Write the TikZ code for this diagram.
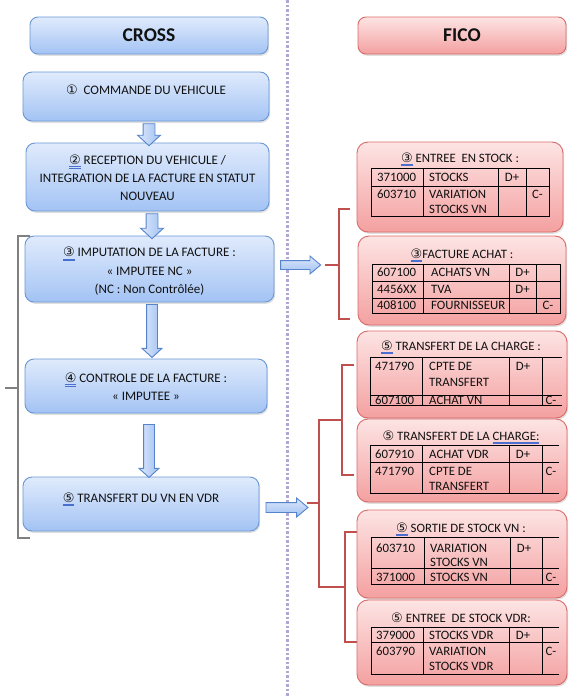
\documentclass[tikz,border=0pt]{standalone}
\usepackage{fontspec}
\setmainfont{Carlito}
\newfontfamily\dvfont{DejaVu Sans}
\usetikzlibrary{shapes.arrows,shadows,calc}
\definecolor{btop}{HTML}{E0EBFC}
\definecolor{bbot}{HTML}{A3C3F4}
\definecolor{bdraw}{HTML}{6A97D6}
\definecolor{atop}{HTML}{DCE8FB}
\definecolor{abot}{HTML}{A0C0F2}
\definecolor{adraw}{HTML}{5584CC}
\definecolor{rtop}{HTML}{FDE4E4}
\definecolor{rbot}{HTML}{F4A0A0}
\definecolor{rdraw}{HTML}{D96B69}
\definecolor{brk}{HTML}{C0504D}
\definecolor{dotc}{HTML}{B3A6D4}
\definecolor{ulc}{HTML}{4A6FD0}
\definecolor{txt}{HTML}{111111}
\newcommand\cn[1]{{\dvfont\fontsize{13}{13}\selectfont #1}}
\newcommand\bu[1]{\setbox0\hbox{#1}\rlap{\color{ulc}\rule[-2.2pt]{\wd0}{0.5pt}}\rlap{\color{ulc}\rule[-3.6pt]{\wd0}{0.5pt}}\box0\relax}
\tikzset{
  bbox/.style={draw=bdraw, line width=0.9pt, rounded corners=9pt, top color=btop, bottom color=bbot,
    inner sep=0pt, drop shadow={shadow xshift=1.2pt, shadow yshift=-1.8pt, opacity=0.25}},
  rbox/.style={draw=rdraw, line width=0.9pt, rounded corners=11pt, top color=rtop, bottom color=rbot,
    inner sep=0pt, drop shadow={shadow xshift=1.2pt, shadow yshift=-1.8pt, opacity=0.25}},
  hd/.style={font=\fontsize{19.5}{22}\selectfont\bfseries, text=txt},
  bt/.style={font=\fontsize{13}{18}\selectfont, align=center, text=txt, inner sep=0pt},
  tt/.style={font=\fontsize{12.8}{15}\selectfont, anchor=west, inner sep=0pt, text height=8pt, text depth=0pt, text=txt},
  tc/.style={font=\fontsize{12.8}{15}\selectfont, anchor=center, inner sep=0pt, text height=8pt, text depth=0pt, text=txt},
  ti/.style={font=\fontsize{12.8}{15}\selectfont, inner sep=0pt, text=txt},
  tbl/.style={line width=0.9pt, black},
  darr/.style={single arrow, draw=adraw, line width=0.9pt, left color=atop, right color=abot,
    inner sep=0pt, text width=0pt, text height=5pt, text depth=5pt, single arrow head extend=4.5pt,
    single arrow tip angle=95, rotate=-90},
  harr/.style={single arrow, draw=adraw, line width=0.9pt, top color=atop, bottom color=abot,
    inner sep=0pt, text width=0pt, text height=4pt, text depth=4pt, single arrow head extend=4.5pt,
    single arrow tip angle=80},
  rbr/.style={draw=brk, line width=2.4pt},
  gbr/.style={draw=black!50, line width=1.4pt},
}
\begin{document}
\begin{tikzpicture}[x=1pt,y=-1pt]
\useasboundingbox (0,0) rectangle (576,696);
% separator
\coordinate (d1) at (287,0); \coordinate (d2) at (287,696);
\draw[dotc, line width=3pt, dash pattern=on 2.5pt off 2pt] (d1) -- (d2);
% headers
\node[bbox, rounded corners=8pt, minimum width=238pt, minimum height=37pt] (hC) at (149,35.5) {};
\node[hd] (hCt) at (hC) {CROSS};
\node[rbox, rounded corners=8pt, minimum width=208pt, minimum height=37pt] (hF) at (462,35.5) {};
\node[hd] (hFt) at (hF) {FICO};
% left boxes
\node[bbox, minimum width=246pt, minimum height=49pt] (b1) at (146,96.5) {};
\node[bt] (b1t) at (146,90) {\cn{①}\ \ COMMANDE DU VEHICULE};
\node[bbox, minimum width=243pt, minimum height=68pt] (b2) at (147.5,177) {};
\node[bt] (b2t) at (147.5,178) {\bu{\cn{②}} RECEPTION DU VEHICULE /\\INTEGRATION\ DE LA FACTURE EN STATUT\\NOUVEAU};
\node[bbox, minimum width=249pt, minimum height=66pt] (b3) at (149.5,269) {};
\node[bt, font=\fontsize{13}{18.5}\selectfont] (b3t) at (149.5,271.5) {\bu{\cn{③}} IMPUTATION DE LA FACTURE :\\« IMPUTEE NC »\\(NC : Non Contrôlée)};
\node[bbox, minimum width=242pt, minimum height=54pt] (b4) at (146,386) {};
\node[bt] (b4t) at (146,387) {\bu{\cn{④}} CONTROLE DE LA FACTURE :\\« IMPUTEE »};
\node[bbox, minimum width=236pt, minimum height=54pt] (b5) at (141,504) {};
\node[bt] (b5t) at (141,499) {\bu{\cn{⑤}} TRANSFERT DU VN EN VDR};
% down arrows
\node[darr, text height=5.5pt, text depth=5.5pt, single arrow head extend=5.5pt, minimum height=22pt] (a12) at (149,132) {};
\node[darr, text height=5.5pt, text depth=5.5pt, single arrow head extend=5.5pt, minimum height=25pt] (a23) at (152,223.5) {};
\node[darr, minimum height=53pt] (a34) at (152,328.5) {};
\node[darr, minimum height=53pt] (a45) at (149,448.5) {};
% right arrows
\node[harr, minimum height=40pt] (a3r) at (298,265) {};
\node[harr, text height=4.5pt, text depth=4.5pt, minimum height=42pt] (a5r) at (284,507.5) {};
% grey bracket
\coordinate (g1) at (30,236); \coordinate (g2) at (18,236); \coordinate (g3) at (18,538); \coordinate (g4) at (30,538);
\coordinate (gm) at (18,388); \coordinate (gt) at (5,388);
\draw[gbr] (g1) -- (g2) -- (g3) -- (g4);
\draw[gbr] (gt) -- (gm);
% red bracket A
\coordinate (ra1) at (350,209); \coordinate (ra2) at (339,209); \coordinate (ra3) at (339,319); \coordinate (ra4) at (350,319);
\coordinate (ram) at (339,265); \coordinate (rat) at (325,265);
\draw[rbr] (ra1) -- (ra2) -- (ra3) -- (ra4);
\draw[rbr] (rat) -- (ram);
% red bracket B
\coordinate (s1a) at (354,365); \coordinate (s1b) at (342,365); \coordinate (s1c) at (342,475); \coordinate (s1d) at (354,475); \coordinate (s1m) at (342,420);
\coordinate (s2a) at (357,532); \coordinate (s2b) at (345,532); \coordinate (s2c) at (345,642); \coordinate (s2d) at (357,642); \coordinate (s2m) at (345,587);
\coordinate (bt1) at (319,420); \coordinate (bt2) at (319,587); \coordinate (bm) at (319,503); \coordinate (bx) at (307,503);
\draw[rbr] (s1a) -- (s1b) -- (s1c) -- (s1d);
\draw[rbr] (s2a) -- (s2b) -- (s2c) -- (s2d);
\draw[rbr] (s1m) -- (bt1) -- (bt2) -- (s2m);
\draw[rbr] (bx) -- (bm);
% right boxes
\node[rbox, minimum width=206pt, minimum height=90pt] (r1) at (460,187) {};
\node[rbox, minimum width=208pt, minimum height=89pt] (r2) at (462,280.5) {};
\node[rbox, minimum width=210pt, minimum height=87pt] (r3) at (462,374.5) {};
\node[rbox, minimum width=210pt, minimum height=83pt] (r4) at (462,460.5) {};
\node[rbox, minimum width=210pt, minimum height=88pt] (r5) at (462,554) {};
\node[rbox, minimum width=210pt, minimum height=85pt] (r6) at (462,642.5) {};
% R1
\node[ti] (r1t) at (460,159) {\bu{\cn{③}} ENTREE\ \ EN STOCK :};
\draw[tbl] (371,168) rectangle (549,216) (371,186) -- (549,186)
  (423,168) -- (423,216) (498,168) -- (498,216) (526,168) -- (526,216);
\node[tt] (r1a1) at (377,177) {371000};
\node[tt] (r1b1) at (429,177) {STOCKS};
\node[tc] (r1c1) at (512,177) {D+};
\node[tt] (r1a2) at (377,194) {603710};
\node[tt] (r1b2) at (429,194) {VARIATION};
\node[tt] (r1b3) at (429,209) {STOCKS VN};
\node[tc] (r1d2) at (537.5,194) {C-};
% R2
\node[ti] (r2t) at (462,255) {\bu{\cn{③}}FACTURE ACHAT :};
\draw[tbl] (372,264) rectangle (560,313) (372,281) -- (560,281) (372,298) -- (560,298)
  (423,264) -- (423,313) (509,264) -- (509,313) (536,264) -- (536,313);
\node[tt] (r2a1) at (377,272.5) {607100};
\node[tt] (r2b1) at (431,272.5) {ACHATS VN};
\node[tc] (r2c1) at (522.5,272.5) {D+};
\node[tt] (r2a2) at (377,289.5) {4456XX};
\node[tt] (r2b2) at (431,289.5) {TVA};
\node[tc] (r2c2) at (522.5,289.5) {D+};
\node[tt] (r2a3) at (377,305.5) {408100};
\node[tt] (r2b3) at (431,305.5) {FOURNISSEUR};
\node[tc] (r2d3) at (548,305.5) {C-};
% R3
\node[ti] (r3t) at (461,347) {\bu{\cn{⑤}} TRANSFERT DE LA CHARGE :};
\draw[tbl] (562,357) -- (370,357) -- (370,405) -- (562,405) (370,395) -- (562,395)
  (422,357) -- (422,405) (509,357) -- (509,405) (542,357) -- (542,405);
\node[tt] (r3a1) at (375,366) {471790};
\node[tt] (r3b1) at (429,366) {CPTE DE};
\node[tt] (r3b2) at (429,382) {TRANSFERT};
\node[tc] (r3c1) at (523,366) {D+};
\node[tt] (r3a2) at (375,400) {607100};
\node[tt] (r3b3) at (429,400) {ACHAT VN};
\node[tc] (r3d2) at (551,400) {C-};
% R4
\node[ti] (r4t) at (461,437) {\cn{⑤} TRANSFERT DE LA \bu{CHARGE:}};
\draw[tbl] (559,445) -- (370,445) -- (370,493) -- (559,493) (370,462) -- (559,462)
  (422,445) -- (422,493) (509,445) -- (509,493) (542,445) -- (542,493);
\node[tt] (r4a1) at (375,454) {607910};
\node[tt] (r4b1) at (429,454) {ACHAT VDR};
\node[tc] (r4c1) at (523,454) {D+};
\node[tt] (r4a2) at (375,471) {471790};
\node[tt] (r4b2) at (429,471) {CPTE DE};
\node[tt] (r4b3) at (429,486) {TRANSFERT};
\node[tc] (r4d2) at (551,471) {C-};
% R5
\node[ti] (r5t) at (461,529) {\bu{\cn{⑤}} SORTIE DE STOCK VN :};
\draw[tbl] (559,537) -- (371,537) -- (371,584) -- (559,584) (371,568) -- (559,568)
  (424,537) -- (424,584) (510,537) -- (510,584) (542,537) -- (542,584);
\node[tt] (r5a1) at (376,548) {603710};
\node[tt] (r5b1) at (430,548) {VARIATION};
\node[tt] (r5b2) at (430,562) {STOCKS VN};
\node[tc] (r5c1) at (524,548) {D+};
\node[tt] (r5a2) at (376,577) {371000};
\node[tt] (r5b3) at (430,577) {STOCKS VN};
\node[tc] (r5d2) at (551,577) {C-};
% R6
\node[ti] (r6t) at (461,618) {\cn{⑤} ENTREE\ \ DE STOCK VDR:};
\draw[tbl] (559,627) -- (371,627) -- (371,674) -- (559,674) (371,642) -- (559,642)
  (423,627) -- (423,674) (509,627) -- (509,674) (542,627) -- (542,674);
\node[tt] (r6a1) at (376,635) {379000};
\node[tt] (r6b1) at (429,635) {STOCKS VDR};
\node[tc] (r6c1) at (523,635) {D+};
\node[tt] (r6a2) at (376,651) {603790};
\node[tt] (r6b2) at (429,651) {VARIATION};
\node[tt] (r6b3) at (429,666) {STOCKS VDR};
\node[tc] (r6d2) at (551,651) {C-};
\end{tikzpicture}
\end{document}
